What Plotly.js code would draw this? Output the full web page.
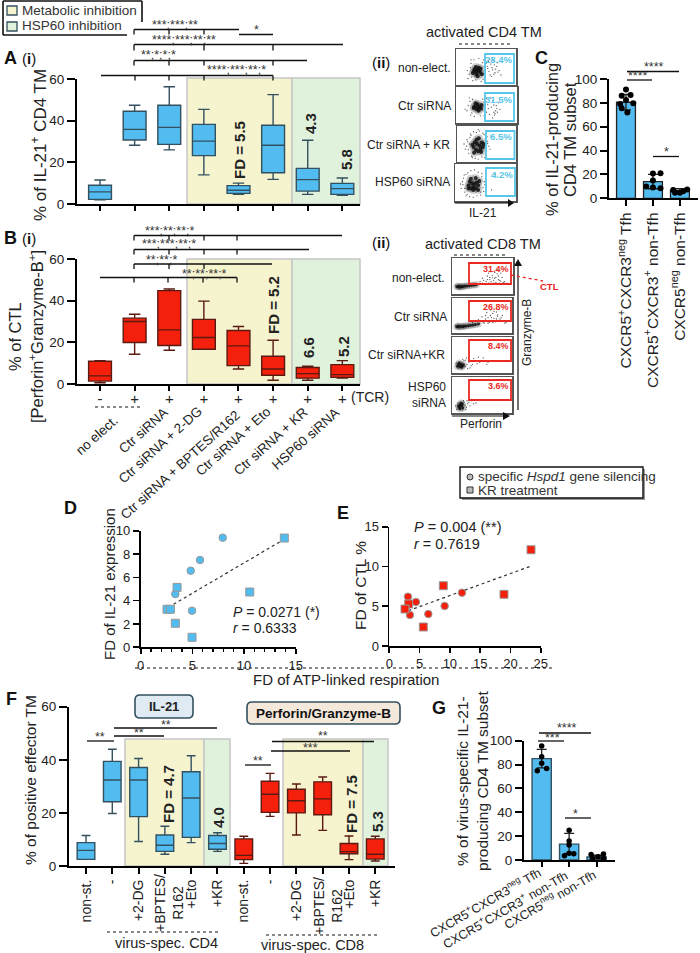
<!DOCTYPE html>
<html><head><meta charset="utf-8">
<script src="https://cdn.plot.ly/plotly-3.0.1.min.js"></script>
<style>html,body{margin:0;padding:0;background:#fff}#g{width:700px;height:953px}</style></head>
<body><div id="g"></div>
<script>
// ---------- Panel A(i): IL-21+ CD4 TM boxes ----------
const aUpper=[11.5,47.4,56.3,45.4,10,52.5,30.6,12.5];
const aQ3=[9,44.5,47.4,38.2,8.8,37.8,17.1,9.9];
const aMedian=[5.8,35.8,36.8,30.2,6.6,28.2,11.7,7.4];
const aQ1=[2.2,30.7,28.6,23.2,5.1,15,6.2,4.6];
const aLower=[2,28.2,26,14,4.6,11.8,4.6,4.2];
// ---------- Panel B(i): CTL boxes ----------
const bUpper=[11.2,33.5,45.6,39.8,27.6,21,8.5,11.2];
const bQ3=[10.9,31.6,44.8,31,25.7,13.3,7.9,9.3];
const bMedian=[3.9,30,26,22.3,18.3,7.2,5,4.5];
const bQ1=[1.4,19.9,18.5,16.7,8.8,4.2,2.8,3.2];
const bLower=[0.6,14.3,16.2,16.7,7.2,1.8,1.8,2.9];
const tcrTicks=['-','+','+','+','+','+','+','+'];
const bConditionLabels=['no elect.','Ctr siRNA','Ctr siRNA + 2-DG','Ctr siRNA + BPTES/R162','Ctr siRNA + Eto','Ctr siRNA + KR','HSP60 siRNA'];
// ---------- Panel C ----------
const cMeans=[80.5,14,6.5];
const cErr=[6.5,6,1.5];
const cDotsX=[0,-0.16,0.17,0,-0.22,0.27,-0.16,0.05,1,1.28,1,0.75,1,1.28,1.75,2.27,1.82,2,2.12];
const cDotsY=[91.3,86,86.6,82.4,79,79.6,75.4,72,20.7,21,15,9.8,9,8.4,7,7.3,4.7,4.7,5.9];
const subsetLabels=['CXCR5<sup>+</sup>CXCR3<sup>neg</sup> Tfh','CXCR5<sup>+</sup>CXCR3<sup>+</sup> non-Tfh','CXCR5<sup>neg</sup> non-Tfh'];
// ---------- Panel D ----------
const dCircX=[7.94,5.74,4.84,3.35,4.97];
const dCircY=[9.4,7.49,6.57,4.57,3.14];
const dSqX=[13.9,10.55,3.52,2.55,2.87,3.35,4.97];
const dSqY=[9.37,4.74,5.14,3.26,3.26,2.06,0.86];
const dFitX=[2.68,13.65];
const dFitY=[3.43,9.14];
// ---------- Panel E ----------
const eCircX=[3.08,4.4,3.41,6.44,9.14,12];
const eCircY=[6.2,5.53,3.9,4.02,5.03,6.7];
const eSqX=[23.4,8.92,18.94,3.19,2.59,5.62];
const eSqY=[12.1,7.58,6.5,5.28,4.65,2.39];
const eFitX=[3.14,23.4];
const eFitY=[4.44,10.05];
// ---------- Panel F ----------
const fIlX=[0,1,2,3,4,5];
const fIlUpper=[11.5,44,40.5,15,41.5,12.5];
const fIlQ3=[8.8,39.4,37.1,11.7,35.5,11.5];
const fIlMedian=[5.9,32.4,32.4,7.8,25.6,8.5];
const fIlQ1=[2.5,24.2,18.6,5.5,10.8,6.3];
const fIlLower=[2.5,19.8,9.2,4.4,8.8,5.5];
const fPgX=[6,7,8,9,10,11];
const fPgUpper=[11.2,34.9,30.9,33.5,11.3,11.2];
const fPgQ3=[10.2,31.9,28.9,31.7,8.5,10.2];
const fPgMedian=[4,27,24.6,25.3,5.4,4.4];
const fPgQ1=[2.4,20.2,20,19.3,4.6,2.6];
const fPgLower=[1,18.7,11.7,13.4,2.4,1.9];
const fTickVals=[0,1,2,4,5,6,7,8,10,11];
const fTickLabels=['non-st.','-','+2-DG','+Eto','+KR','non-st.','-','+2-DG','+Eto','+KR'];
const fAllTicks=[0,1,2,3,4,5,6,7,8,9,10,11];
const fTwoLineLabel='+BPTES/<br>R162';
// ---------- Panel G ----------
const gMeans=[85,13.3,2.5];
const gErrUp=[7.7,9,1.5];
const gErrDown=[7.7,7.7,1.5];
const gDotsX=[0,0,0,-0.16,0.18,1,1,1,0.83,1,1.17,1.8,2.25,2.05,1.85,2.25];
const gDotsY=[95.5,86.6,81,74.9,76.8,24.9,15.9,12.6,3.6,5.6,5.3,4.7,5,2.8,1.4,1.4];
// ---------- Flow plots (read by eye, axis units 0-100) ----------
const cd4aCoreX=[30,34,37,40,33,38,35,31,41,36,28,43];
const cd4aCoreY=[38,30,42,36,50,48,38,44,45,24,33,30];
const cd4aDotX=[22,24,26,19,25,47,45,44,49,52,55,58,60,63,66,70,54,57,62,68,72,59,65,50,75,48,53,61,64,56,25,28,45,30,38,42,46,20,33,69];
const cd4aDotY=[30,48,22,40,60,50,32,62,42,52,38,58,48,30,44,36,66,28,68,52,40,24,34,60,28,24,46,42,56,72,70,12,16,70,74,10,70,18,14,62];
const cd4bCoreX=[30,34,38,41,35,32,37,42,36,29];
const cd4bCoreY=[45,38,44,40,52,55,34,50,46,42];
const cd4bDotX=[18,20,23,26,15,24,44,46,48,50,52,55,60,62,65,67,64,58,68,66,63,70,50,57,72,46,40,27,30,22,44,60,62,53];
const cd4bDotY=[34,48,60,28,38,22,36,58,46,30,52,24,62,50,34,40,26,44,30,48,22,56,68,70,38,20,20,66,18,70,66,14,30,40];
const cd4cCoreX=[28,32,36,40,44,30,34,38,42,26,33,37,41,29,45];
const cd4cCoreY=[42,34,30,36,42,55,50,46,54,48,62,66,28,26,50];
const cd4cDotX=[14,18,20,22,24,16,25,48,50,52,21,46,28,33,38,42,48,19,26,31,36,44,54,58,17,23,47,51,56,12,52,66,36];
const cd4cDotY=[36,56,24,68,74,44,16,66,30,58,50,76,84,82,86,14,20,34,12,10,8,80,44,72,62,78,12,70,36,50,52,86,90];
const cd4dCoreX=[22,26,30,34,38,24,28,32,36,40,26,34,30,22,38];
const cd4dCoreY=[42,34,30,34,42,52,48,46,50,54,60,62,38,34,30];
const cd4dDotX=[10,12,14,16,18,20,42,44,46,48,13,15,18,21,26,32,38,44,16,24,30,36,42,49,9,47,60,66];
const cd4dDotY=[34,52,62,24,72,18,24,66,36,52,44,70,14,76,82,84,78,74,34,12,10,14,16,44,46,26,30,72];
const cd8aCoreX=[8,10,12,14,16,18,21,24,28,32,36,40];
const cd8aCoreY=[20,22,19,21,20,21,22,22,23,24,25,26];
const cd8aDotX=[6,44,48,50,54,56,58,60,62,64,66,68,70,72,74,76,78,82,86,88,52,58,64,70,76,80,84,60,68,74,80,46,50,62,72,90,55,66,78];
const cd8aDotY=[24,27,28,30,28,35,40,30,46,34,52,38,44,32,56,40,30,46,34,28,38,50,62,60,50,36,32,58,30,68,58,34,44,40,46,30,26,45,38];
const cd8bCoreX=[8,10,12,15,18,20,23,27,31,35,39,44];
const cd8bCoreY=[18,20,17,19,18,20,20,21,22,23,24,26];
const cd8bDotX=[6,28,46,48,52,54,56,58,60,62,64,66,68,70,72,74,76,78,82,86,88,44,50,58,64,70,76,80,34,42,60,68,74,84,90,56,66];
const cd8bDotY=[22,26,28,34,30,28,40,34,44,30,50,36,56,42,32,60,48,36,44,34,28,38,46,58,66,62,52,40,30,34,28,30,40,50,30,50,44];
const cd8cCoreX=[9,11,13,15,17,19,12,16];
const cd8cCoreY=[19,24,18,24,20,23,28,16];
const cd8cDotX=[7,22,25,28,20,30,18,34,38,42,24,32,46,52,58,10,26,36,44,60,23,29];
const cd8cDotY=[28,18,24,30,34,14,38,24,34,26,42,20,30,42,24,12,12,40,44,30,36,34];
const cd8dCoreX=[12,14,16,18,13,17,15,11];
const cd8dCoreY=[16,22,20,14,12,25,28,20];
const cd8dDotX=[8,20,22,24,10,26,19,28,30,33,36,18,23,40,6,25];
const cd8dDotY=[10,30,22,16,28,26,34,30,20,34,26,8,10,28,20,34];
const cd4Pct=['28.4%','31.5%','6.5%','4.2%'];
const cd4Rows=['non-elect.','Ctr siRNA','Ctr siRNA + KR','HSP60 siRNA'];
const cd8Pct=['31.4%','26.8%','8.4%','3.6%'];
const cd8Rows=['non-elect.','Ctr siRNA','Ctr siRNA+KR','HSP60<br>siRNA'];
const legendA=['Metabolic inhibition','HSP60 inhibition'];
const legendB=['specific <i>Hspd1</i> gene silencing','KR treatment'];

// ---------- helpers ----------
const FF='"Liberation Sans", Arial, sans-serif', INK='#222';
const BLUE='#52bcf0', RED='#f4200c', BL='#33505f', RL='#5a1a12';
const YEL='#f6f3cf', GRN='#e1f2dc', EDGE='#c6c6c6';
const PX=x=>x/700, PY=y=>1-y/953;
const layout={width:700,height:953,margin:{l:0,r:0,t:0,b:0},paper_bgcolor:'#fff',plot_bgcolor:'rgba(0,0,0,0)',
  showlegend:false,font:{family:FF,color:INK,size:13},shapes:[],annotations:[]};
const traces=[];
let axN=0;
function axes(l,r,t,b,xo,yo){axN++;const s=axN===1?'':axN;
  layout['xaxis'+s]=Object.assign({domain:[PX(l),PX(r)],anchor:'y'+s,showgrid:false,zeroline:false,showline:true,linecolor:'#000',linewidth:2,ticks:'outside',ticklen:5,tickwidth:2,tickcolor:'#000',fixedrange:true},xo);
  layout['yaxis'+s]=Object.assign({domain:[PY(b),PY(t)],anchor:'x'+s,showgrid:false,zeroline:false,showline:true,linecolor:'#000',linewidth:2,ticks:'outside',ticklen:8,tickwidth:2,tickcolor:'#000',tickfont:{size:13.5,color:INK},fixedrange:true},yo);
  return {xaxis:'x'+s,yaxis:'y'+s};}
function T(text,x,y,o={}){layout.annotations.push({text,x:PX(x),y:PY(y),xref:'paper',yref:'paper',showarrow:false,
  xanchor:o.xa||'center',yanchor:o.ya||'middle',textangle:o.angle||0,borderpad:0,align:o.align||'center',
  font:{family:FF,size:o.size||13,color:o.color||INK}});}
function L(x0,y0,x1,y1,o={}){layout.shapes.push({type:'line',xref:'paper',yref:'paper',x0:PX(x0),y0:PY(y0),x1:PX(x1),y1:PY(y1),layer:o.layer||'above',line:{color:o.color||'#111',width:o.w||1.3,dash:o.dash||'solid'}});}
function R(x0,y0,x1,y1,fill,o={}){layout.shapes.push({type:'rect',xref:'paper',yref:'paper',x0:PX(x0),y0:PY(y0),x1:PX(x1),y1:PY(y1),layer:o.layer||'below',fillcolor:fill,line:{color:o.line||'rgba(0,0,0,0)',width:o.w||0}});}
function P(path,fill,o={}){layout.shapes.push({type:'path',xref:'paper',yref:'paper',path,layer:o.layer||'above',fillcolor:fill,line:{color:o.line||'rgba(0,0,0,0)',width:o.w||0}});}
function box(ax,x,q1,med,q3,lo,up,fill,line,w){traces.push(Object.assign({type:'box',x,q1,median:med,q3,lowerfence:lo,upperfence:up,width:w,boxpoints:false,whiskerwidth:0.5,fillcolor:fill,line:{color:line,width:1.4},hoverinfo:'skip'},ax));}
function bracket(x0,x1,y,drops,len,txt,tx,ty){L(x0,y,x1,y);(drops||[]).forEach(d=>L(d,y,d,y+len));if(txt)T(txt,tx,ty,{size:12.5,color:'#333'});}
function round(x0,y0,x1,y1,r){return `M ${PX(x0+r)} ${PY(y0)} L ${PX(x1-r)} ${PY(y0)} Q ${PX(x1)} ${PY(y0)} ${PX(x1)} ${PY(y0+r)} L ${PX(x1)} ${PY(y1-r)} Q ${PX(x1)} ${PY(y1)} ${PX(x1-r)} ${PY(y1)} L ${PX(x0+r)} ${PY(y1)} Q ${PX(x0)} ${PY(y1)} ${PX(x0)} ${PY(y1-r)} L ${PX(x0)} ${PY(y0+r)} Q ${PX(x0)} ${PY(y0)} ${PX(x0+r)} ${PY(y0)} Z`;}
const idx8=[0,1,2,3,4,5,6,7];

// ---------- legend A ----------
L(3,1,142,1,{w:1.6});L(142,1,142,22,{w:1.6});L(3,1,3,35,{w:1.6});L(3,35,127,35,{w:1.6});
R(7,6,17,15,YEL,{line:'#33505f',w:1.3,layer:'above'});R(7,22,17,31,GRN,{line:'#33505f',w:1.3,layer:'above'});
T(legendA[0],21,10,{xa:'left',size:13.5,color:'#333'});T(legendA[1],21,26,{xa:'left',size:13.5,color:'#333'});

// ---------- A(i) ----------
R(187,78,292,204,YEL,{line:EDGE,w:1.5});R(292,78,360,204,GRN,{line:EDGE,w:1.5});
let ax=axes(77,360,79,204,{range:[-0.665,7.51],tickvals:idx8,showticklabels:false},{range:[0,60],tickvals:[0,20,40,60]});
box(ax,idx8,aQ1,aMedian,aQ3,aLower,aUpper,BLUE,BL,0.66);
T('<b>A</b>',10,58,{size:18,color:'#111'});T('(<b>i</b>)',29,59,{size:15,color:'#111'});
T('% of IL-21<sup>+</sup> CD4 TM',39,145,{angle:-90,size:17});
T('<b>FD = 5.5</b>',240,150,{angle:-90,size:15});T('<b>4.3</b>',310,124,{angle:-90,size:15});T('<b>5.8</b>',346,160,{angle:-90,size:15});
bracket(134,239,29.5,[134,169,204],5,'***;***;**',175,25);
bracket(239,273,34.5,[],0,'*',256,30);
bracket(134,343,44.5,[134,204,273],6,'****;***;**;**',184,40);
bracket(134,307,60.5,[134,169,204,273],5,'**;*;*;*',158,55);
bracket(101,273,75.5,[135,169,204,273],5,'****;***;**;*',236,70);

// ---------- B(i) ----------
R(187,259,292,384,YEL,{line:EDGE,w:1.5});R(292,259,360,384,GRN,{line:EDGE,w:1.5});
ax=axes(77,360,259,384,{range:[-0.665,7.51],tickvals:idx8,ticktext:tcrTicks,ticklabelstandoff:-5,tickfont:{size:15,color:INK}},{range:[0,60],tickvals:[0,20,40,60]});
box(ax,idx8,bQ1,bMedian,bQ3,bLower,bUpper,RED,RL,0.66);
T('<b>B</b>',10,238,{size:18,color:'#111'});T('(<b>i</b>)',29,238,{size:15,color:'#111'});
T('% of CTL',15,337,{angle:-90,size:16.5});T('[Perforin<sup>+</sup>Granzyme-B<sup>+</sup>]',36,337,{angle:-90,size:16.5});
T('<b>FD = 5.2</b>',273,305,{angle:-90,size:15});T('<b>6.6</b>',308,348,{angle:-90,size:15});T('<b>5.2</b>',343,347,{angle:-90,size:15});
T('(TCR)',350,397,{xa:'left',size:14});
L(95,407,140,407,{w:1,dash:'dot'});
bracket(134,342,235.5,[134,169,204,237],5,'***;**;**;*',169,231);
bracket(134,309,249.5,[134,169,204,237],5,'***;***;**;*',169,244);
bracket(134,272,264,[134,169,204],5,'**;**;*',161,260);
bracket(100,237,277.5,[134,168,203,237],5,'**;**;**;*',204,274);
const lblEnds=[[122,411],[172,403],[207,402],[245,406],[275,403],[312,403],[344,403]];
bConditionLabels.forEach((s,i)=>T(s,lblEnds[i][0],lblEnds[i][1],{angle:-42,size:13.5,xa:'right',ya:'top'}));

// ---------- (ii) CD4 flow ----------
const cd4Boxes=[[456,516,49,85,485,514,54,83],[456,517,87,123,485,514,93,121],[457,516,126,162,486,514.5,131,159],[455,516,164,201,486,515,168,196]];
const cd4Data=[[cd4aCoreX,cd4aCoreY,cd4aDotX,cd4aDotY],[cd4bCoreX,cd4bCoreY,cd4bDotX,cd4bDotY],[cd4cCoreX,cd4cCoreY,cd4cDotX,cd4cDotY],[cd4dCoreX,cd4dCoreY,cd4dDotX,cd4dDotY]];
const flowAxis={range:[0,100],ticks:'',tickvals:[],showticklabels:false,mirror:true,linecolor:'#555',linewidth:1.5};
function flow(b,d,gate,gw,pct,pctSize){const a=axes(b[0],b[1],b[2],b[3],flowAxis,flowAxis);
  traces.push(Object.assign({type:'scatter',mode:'markers',x:d[2],y:d[3],marker:{size:1.3,color:'#555'},hoverinfo:'skip'},a));
  traces.push(Object.assign({type:'scatter',mode:'markers',x:d[0],y:d[1],marker:{size:gw+4,color:'#333',opacity:0.22,line:{width:0}},hoverinfo:'skip'},a));
  traces.push(Object.assign({type:'scatter',mode:'markers',x:d[0],y:d[1],marker:{size:gw,color:'#111',opacity:0.85,line:{width:0}},hoverinfo:'skip'},a));
  R(b[4],b[6],b[5],b[7],'rgba(0,0,0,0)',{line:gate,w:1.8,layer:'above'});
  T('<b>'+pct+'</b>',b[5]-1.5,b[6]+6,{xa:'right',size:pctSize,color:gate});}
cd4Boxes.forEach((b,i)=>flow(b,cd4Data[i],'#58c6e8',4,cd4Pct[i],9.5));
T('activated CD4 TM',484,32,{size:14.5,color:'#222'});L(459,44,512,44,{dash:'dot',w:1});
T('(<b>ii</b>)',381,62,{size:15,color:'#111'});
[[452,68],[452,106],[451,145],[451,182]].forEach((p,i)=>T(cd4Rows[i],p[0],p[1],{xa:'right',size:12}));
L(455,203,510,203,{w:1.2});P(`M ${PX(508)} ${PY(199)} L ${PX(514)} ${PY(203)} L ${PX(508)} ${PY(207)} Z`,'#111');
T('IL-21',483,213,{size:12});

// ---------- (ii) CD8 flow ----------
const cd8Boxes=[[452,513,258,294,469,511,263,284],[452,512,298,333,469,511,301,321],[452,512,337,373,469,511,340,361],[452,512,377,413,469,511,380,400]];
const cd8Data=[[cd8aCoreX,cd8aCoreY,cd8aDotX,cd8aDotY],[cd8bCoreX,cd8bCoreY,cd8bDotX,cd8bDotY],[cd8cCoreX,cd8cCoreY,cd8cDotX,cd8cDotY],[cd8dCoreX,cd8dCoreY,cd8dDotX,cd8dDotY]];
cd8Boxes.forEach((b,i)=>flow(b,cd8Data[i],'#ea2a22',3,cd8Pct[i],9));
T('activated CD8 TM',483,244,{size:14.5,color:'#222'});L(454,255,507,255,{dash:'dot',w:1});
T('(<b>ii</b>)',381,242,{size:15,color:'#111'});
[[446,278],[448,317],[446,355],[447,395]].forEach((p,i)=>T(cd8Rows[i],p[0],p[1],{xa:'right',size:12,align:'right'}));
L(452,416,504,416,{w:1.2});P(`M ${PX(503)} ${PY(412)} L ${PX(510)} ${PY(416)} L ${PX(503)} ${PY(420)} Z`,'#111');
T('Perforin',481,424,{size:12});
L(518,410,518,265,{w:1.2});P(`M ${PX(514)} ${PY(266)} L ${PX(518)} ${PY(259)} L ${PX(522)} ${PY(266)} Z`,'#111');
T('Granzyme-B',527,333,{angle:-90,size:12});
L(511,275,543,281,{color:'#e22',dash:'dot',w:1.3});T('<b>CTL</b>',549,287,{size:9.5,color:'#e22'});

// ---------- C ----------
ax=axes(609,698,79,198.3,{range:[-0.63,2.67],tickvals:[0,1,2],ticktext:subsetLabels,tickangle:-90,ticklen:6,tickfont:{size:15.5,color:INK}},{range:[0,100],tickvals:[0,20,40,60,80,100],ticklen:7});
traces.push(Object.assign({type:'bar',x:[0,1,2],y:cMeans,width:0.7,marker:{color:BLUE,line:{color:'#222',width:1.3}},error_y:{type:'data',array:cErr,color:'#222',thickness:1.3,width:5},hoverinfo:'skip'},ax));
traces.push(Object.assign({type:'scatter',mode:'markers',x:cDotsX,y:cDotsY,marker:{size:6,color:'#000'},hoverinfo:'skip'},ax));
T('<b>C</b>',541,58,{size:18,color:'#111'});
T('% of IL-21-producing',552,140,{angle:-90,size:16.5});T('CD4 TM subset',570,140,{angle:-90,size:16.5});
bracket(627,652,80,[],0,'****',638,76);bracket(627,679,71.5,[],0,'****',654,67);bracket(653,679,156.5,[],0,'*',666,152);

// ---------- D ----------
const ScatterX={ticklen:5,tickwidth:1.6,linewidth:1.8,tickfont:{size:13,color:INK}};
const ScatterY={ticklen:6,tickwidth:1.6,linewidth:1.8,tickfont:{size:13,color:INK}};
ax=axes(140.7,295.7,530.7,647.3,Object.assign({range:[0,15],tickvals:[0,5,10,15],minor:{dtick:1,ticks:'outside',ticklen:2.5,tickwidth:1.2,tickcolor:'#000'}},ScatterX),Object.assign({range:[0,10],tickvals:[0,2,4,6,8,10]},ScatterY));
const fit={type:'scatter',mode:'lines',line:{color:'#333',width:1.2,dash:'dot'},hoverinfo:'skip'};
const mk=(sym,col)=>({type:'scatter',mode:'markers',marker:{symbol:sym,size:sym==='square'?8:7.5,color:col,line:{color:'#999',width:1}},hoverinfo:'skip'});
traces.push(Object.assign({},fit,{x:dFitX,y:dFitY},ax));
traces.push(Object.assign(mk('circle',BLUE),{x:dCircX,y:dCircY},ax));
traces.push(Object.assign(mk('square',BLUE),{x:dSqX,y:dSqY},ax));
T('<b>D</b>',70,508,{size:18,color:'#111'});
T('FD of IL-21 expression',109,584,{angle:-90,size:15});
T('<i>P</i> = 0.0271 (*)',232,612,{xa:'left',size:14});T('<i>r</i> = 0.6333',232,628,{xa:'left',size:14});

// ---------- E ----------
ax=axes(389.3,540.7,526.7,646,Object.assign({range:[0,25],tickvals:[0,5,10,15,20,25]},ScatterX),Object.assign({range:[0,15],tickvals:[0,5,10,15]},ScatterY));
traces.push(Object.assign({},fit,{x:eFitX,y:eFitY},ax));
traces.push(Object.assign(mk('circle',RED),{x:eCircX,y:eCircY},ax));
traces.push(Object.assign(mk('square',RED),{x:eSqX,y:eSqY},ax));
T('<b>E</b>',343,513,{size:18,color:'#111'});
T('FD of CTL %',360,585,{angle:-90,size:15.5});
T('<i>P</i> = 0.004 (**)',413,527,{xa:'left',size:14.5});T('<i>r</i> = 0.7619',413,544,{xa:'left',size:14.5});
L(135,668,552,668,{dash:'dot',w:1});
T('FD of ATP-linked respiration',346,679,{size:15});

// ---------- legend B ----------
R(462,469,645,500,'#999',{layer:'above'});
R(460,467,643,498,'#fff',{line:'#111',w:1.4,layer:'above'});
layout.shapes.push({type:'circle',xref:'paper',yref:'paper',x0:PX(467),x1:PX(473),y0:PY(474),y1:PY(480),fillcolor:'#bbb',line:{color:'#333',width:1}});
R(467,487,473,493,'#bbb',{line:'#333',w:1,layer:'above'});
T(legendB[0],477,476,{xa:'left',size:13.5,color:'#333'});T(legendB[1],477,490,{xa:'left',size:13.5,color:'#333'});

// ---------- F ----------
R(125,739,204,866,YEL,{line:EDGE,w:1.5});R(204,739,230,866,GRN,{line:EDGE,w:1.5});
R(283,739,363,866,YEL,{line:EDGE,w:1.5});R(363,739,388,866,GRN,{line:EDGE,w:1.5});
ax=axes(69,395,706.7,866,{range:[-0.646,11.75],tickvals:fAllTicks,ticktext:fAllTicks.map(t=>{const i=fTickVals.indexOf(t);return i<0?' ':fTickLabels[i];}),tickangle:-90,ticklen:6,tickfont:{size:14,color:INK}},{range:[0,60],tickvals:[0,20,40,60]});
box(ax,fIlX,fIlQ1,fIlMedian,fIlQ3,fIlLower,fIlUpper,BLUE,BL,0.67);
box(ax,fPgX,fPgQ1,fPgMedian,fPgQ3,fPgLower,fPgUpper,RED,RL,0.67);
T(fTwoLineLabel,169,903,{angle:-90,size:14});T(fTwoLineLabel,328,906,{angle:-90,size:14});
T('<b>F</b>',11,699,{size:18,color:'#111'});
T('% of positive effector TM',30,780,{angle:-90,size:15.5});
P(round(135,695,193,718,5),'#dfeaf2',{line:'#33505f',w:1.6});T('<b>IL-21</b>',164,706,{size:13,color:'#222'});
P(round(247,702,400,724,5),'#f4e8da',{line:'#33505f',w:1.6});T('<b>Perforin/Granzyme-B</b>',323,713,{size:13.5,color:'#111'});
T('<b>FD = 4.7</b>',168,794,{angle:-90,size:15});T('<b>4.0</b>',218,818,{angle:-90,size:15});
T('<b>FD = 7.5</b>',351,804,{angle:-90,size:15});T('<b>5.3</b>',377,822,{angle:-90,size:15});
bracket(87,114,741,[],0,'**',100,737);bracket(114,164,736,[],0,'**',139,733);bracket(114,217,728,[],0,'**',166,725);
bracket(245,271,765,[],0,'**',258,761);bracket(271,350,751,[],0,'***',310,748);bracket(272,374,741.5,[],0,'**',323,736);
L(107,932,220,932,{dash:'dot',w:1});T('virus-spec. CD4',166,943,{size:14.5});
L(266,935,380,935,{dash:'dot',w:1});T('virus-spec. CD8',312,945,{size:14.5});

// ---------- G ----------
ax=axes(524,615,740.7,860,{range:[-0.644,2.67],tickvals:[0,1,2],showticklabels:false,ticklen:5},{range:[0,100],tickvals:[0,20,40,60,80,100],ticklen:7});
traces.push(Object.assign({type:'bar',x:[0,1,2],y:gMeans,width:0.7,marker:{color:BLUE,line:{color:'#33505f',width:1.4}},error_y:{type:'data',array:gErrUp,arrayminus:gErrDown,color:'#222',thickness:1.3,width:5},hoverinfo:'skip'},ax));
traces.push(Object.assign({type:'scatter',mode:'markers',x:gDotsX,y:gDotsY,marker:{size:5.5,color:'#000'},hoverinfo:'skip'},ax));
[[545,862],[572,865],[600,865]].forEach((p,i)=>T(subsetLabels[i],p[0],p[1],{angle:-30,size:12.5,xa:'right',ya:'top'}));
T('<b>G</b>',439,708,{size:18,color:'#111'});
T('% of virus-specific IL-21-',462,781,{angle:-90,size:15.5});T('producing CD4 TM subset',482,781,{angle:-90,size:15.5});
bracket(538,564,741,[],0,'***',552,738);bracket(539,591,733,[],0,'****',567,728);bracket(565,591,818,[],0,'*',575,814);

Plotly.newPlot('g',traces,layout,{displayModeBar:false,staticPlot:true});
</script></body></html>
